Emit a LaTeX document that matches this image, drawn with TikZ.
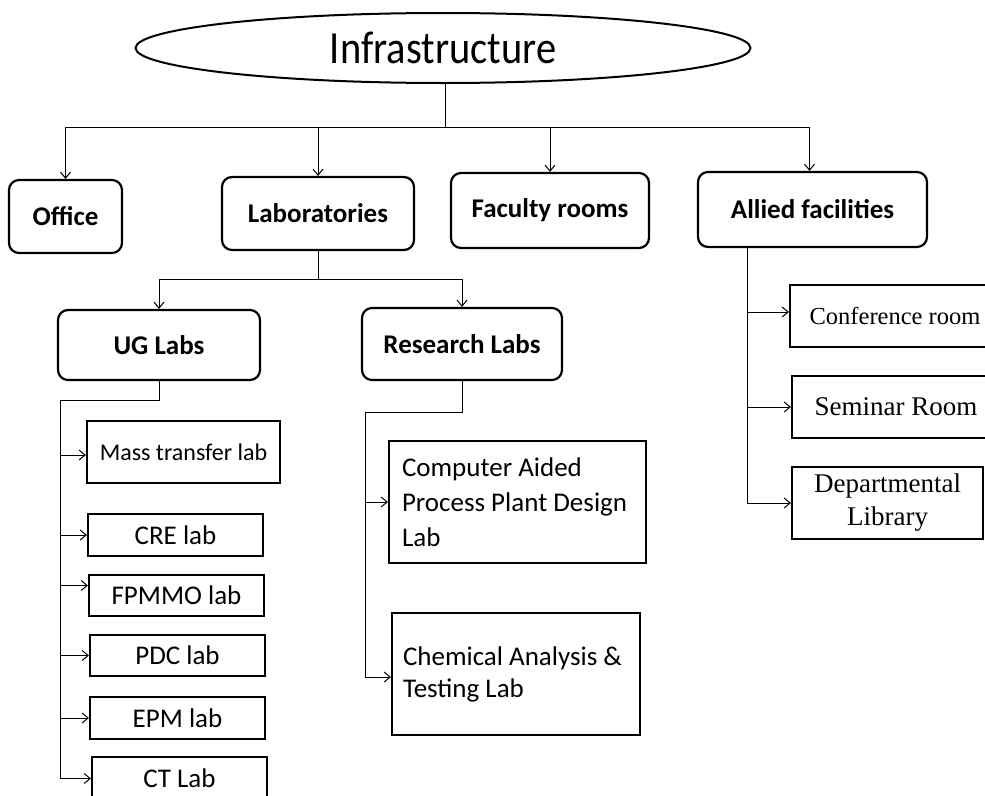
\documentclass[tikz,border=0pt]{standalone}
\usepackage{fontspec}
\setmainfont{Carlito}
\newfontfamily\tnr{Liberation Serif}
\newfontfamily\narrowf[FakeStretch=0.88]{Carlito}
\usetikzlibrary{arrows.meta,shapes.geometric}
\begin{document}
\begin{tikzpicture}[x=1pt,y=-1pt,
  box/.style={draw, line width=2.2pt, inner sep=0pt},
  topbox/.style={box, rounded corners=10pt, font=\bfseries\fontsize{27}{32}\selectfont},
  labbox/.style={box, font=\fontsize{27}{32}\selectfont},
  roombox/.style={box, font=\tnr\fontsize{27}{33}\selectfont},
  conn/.style={line width=1pt},
  arr/.style={conn, -{Straight Barb[length=6pt,width=10pt]}}]
\useasboundingbox (0,0) rectangle (985,795);
\clip (0,0) rectangle (985,795);
\fill[white] (0,0) rectangle (985,795);

% root
\node[draw, ellipse, line width=2pt, minimum width=615pt, minimum height=70pt, inner sep=0pt,
      font=\narrowf\fontsize{46}{52}\selectfont] (inf) at (443,48) {Infrastructure};

% first level
\node[topbox, minimum width=113pt, minimum height=73pt] (office) at (65.5,216.5) {Office};
\node[topbox, minimum width=192pt, minimum height=73pt] (labs) at (318,213.5) {Laboratories};
\node[topbox, minimum width=198pt, minimum height=75pt] (fac) at (550,210.5) {Faculty rooms};
\node[topbox, minimum width=229pt, minimum height=75pt] (allied) at (812.5,209.5) {Allied facilities};

% second level
\node[topbox, minimum width=202pt, minimum height=70pt] (ug) at (159,345) {UG Labs};
\node[topbox, minimum width=200pt, minimum height=72pt] (res) at (462,344) {Research Labs};

% UG labs
\node[labbox, font=\fontsize{24}{30}\selectfont, minimum width=193pt, minimum height=62pt] (mass) at (183.5,452) {Mass transfer lab};
\node[labbox, minimum width=175pt, minimum height=42pt] (cre) at (175.5,535) {CRE lab};
\node[labbox, minimum width=175pt, minimum height=41pt] (fpmmo) at (176.5,595.5) {FPMMO lab};
\node[labbox, minimum width=175pt, minimum height=41pt] (pdc) at (177.5,655.5) {PDC lab};
\node[labbox, minimum width=175pt, minimum height=42pt] (epm) at (177.5,718) {EPM lab};
\node[labbox, minimum width=175pt, minimum height=43pt] (ct) at (179.5,778.5) {CT Lab};

% research labs
\node[labbox, font=\fontsize{27}{35}\selectfont, minimum width=257pt, minimum height=122pt,
      text width=231pt, align=flush left] (comp) at (517.5,502)
      {Computer Aided\\Process Plant Design\\Lab};
\node[labbox, minimum width=248pt, minimum height=122pt,
      text width=226pt, align=flush left] (chem) at (516,674)
      {Chemical Analysis \&\\Testing Lab};

% allied facilities
\node[roombox, font=\tnr\fontsize{24.5}{30}\selectfont, minimum width=210pt, minimum height=62pt] (conf) at (895,316) {Conference room};
\node[roombox, minimum width=208pt, minimum height=62pt] (sem) at (896,407) {Seminar Room};
\node[roombox, minimum width=191pt, minimum height=72pt, align=center] (lib) at (887.5,503) {Departmental\\Library};

% connectors: root
\coordinate (j0) at (445,127);
\draw[conn] (inf.south -| j0) -- (j0);
\draw[arr] (j0) -| (office.north);
\draw[arr] (j0) -| (labs.north);
\draw[arr] (j0) -| (fac.north);
\draw[arr] (j0) -| ([xshift=-3pt]allied.north);

% laboratories
\coordinate (j1) at (318,279);
\draw[conn] (labs.south) -- (j1);
\draw[arr] (j1) -| (ug.north);
\draw[arr] (j1) -| (res.north);

% UG labs
\coordinate (u1) at (159,400);
\coordinate (u2) at (60,400);
\draw[conn] (ug.south) -- (u1) -- (u2);
\draw[arr] (u2) |- ([yshift=-3pt]mass.west);
\draw[arr] (u2) |- (cre.west);
\draw[arr] (u2) |- ([yshift=10pt]fpmmo.west);
\draw[arr] (u2) |- (pdc.west);
\draw[arr] (u2) |- (epm.west);
\draw[arr] (u2) |- (ct.west);

% research labs
\coordinate (r1) at (462,412);
\coordinate (r2) at (365,412);
\draw[conn] (res.south) -- (r1) -- (r2);
\draw[arr] (r2) |- (comp.west);
\draw[arr] (r2) |- ([yshift=-3pt]chem.west);

% allied facilities
\coordinate (a1) at (747,247);
\draw[arr] (a1) |- ([yshift=4pt]conf.west);
\draw[arr] (a1) |- (sem.west);
\draw[arr] (a1) |- (lib.west);
\end{tikzpicture}
\end{document}
